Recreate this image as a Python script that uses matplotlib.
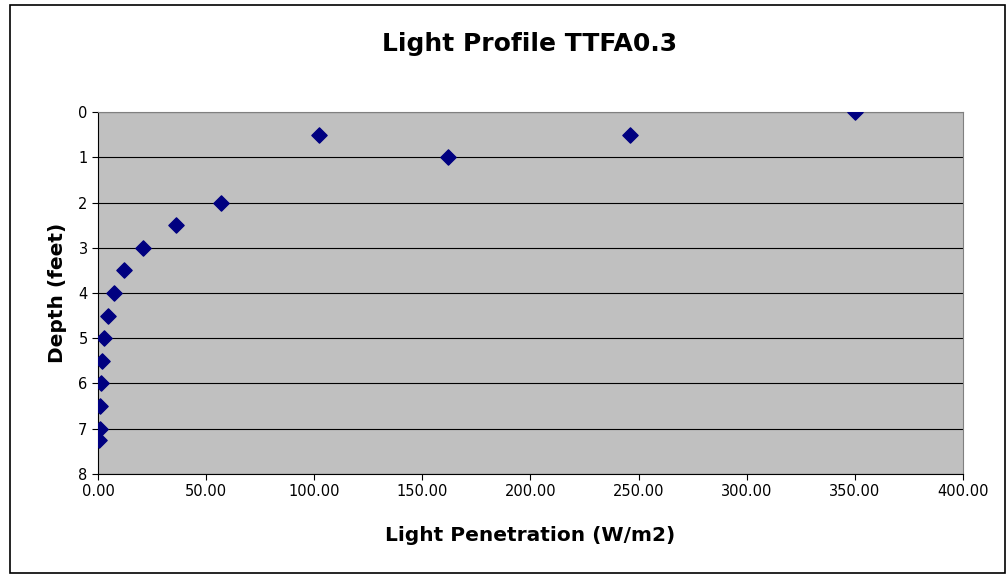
import matplotlib
matplotlib.use('Agg')
from matplotlib import pyplot as plt
from matplotlib.patches import Rectangle

light = [350, 246, 162, 102, 57, 36, 21, 12, 7.5, 4.5, 3, 2, 1.2, 0.9, 0.8, 0.6]
depth = [0, 0.5, 1, 0.5, 2, 2.5, 3, 3.5, 4, 4.5, 5, 5.5, 6, 6.5, 7, 7.25]

x_ticks = [0, 50, 100, 150, 200, 250, 300, 350, 400]
y_ticks = [0, 1, 2, 3, 4, 5, 6, 7, 8]

fig = plt.figure(figsize=(10.07, 5.75), dpi=100)
ax = fig.add_axes([0.0973, 0.1757, 0.859, 0.6295])

# chart border
fig.patches.append(Rectangle((0.010, 0.004), 0.988, 0.987, transform=fig.transFigure,
                             fill=False, edgecolor='black', linewidth=1.2))

ax.set_facecolor('#C0C0C0')
ax.scatter(light, depth, marker='D', s=60, color='#000080', zorder=3)

ax.set_xlim(0, 400)
ax.set_ylim(8, 0)
ax.set_xticks(x_ticks)
ax.set_xticklabels(['%.2f' % v for v in x_ticks])
ax.set_yticks(y_ticks)
ax.yaxis.grid(True, color='black', linewidth=0.8)
ax.set_axisbelow(True)

for s in ['top', 'right']:
    ax.spines[s].set_color('#808080')
for s in ['left', 'bottom']:
    ax.spines[s].set_color('black')
ax.tick_params(direction='out', length=4, labelsize=10.5, colors='black')

fig.text(0.5255, 0.9235, 'Light Profile TTFA0.3', fontsize=18, fontweight='bold',
         ha='center', va='center')
ax.set_xlabel('Light Penetration (W/m2)', fontsize=14.5, fontweight='bold', labelpad=19)
ax.set_ylabel('Depth (feet)', fontsize=14.5, fontweight='bold', labelpad=8)

fig.savefig('out.png', dpi=100)
